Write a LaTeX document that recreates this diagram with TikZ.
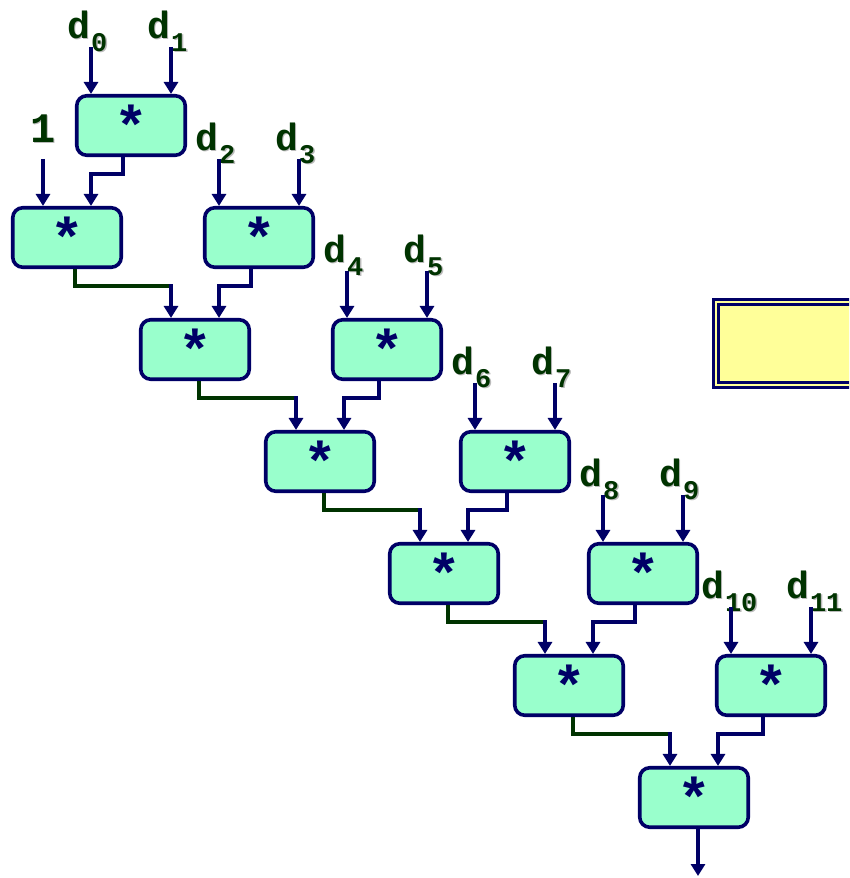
\documentclass[tikz,border=0pt]{standalone}
\usepackage{fontspec}
\setmonofont{Liberation Mono}
\usetikzlibrary{arrows.meta}
\definecolor{navy}{HTML}{000066}
\definecolor{mint}{HTML}{99FFCC}
\definecolor{dgreen}{HTML}{003300}
\definecolor{pyellow}{HTML}{FFFF99}
\definecolor{shade}{HTML}{BBBBBB}
\newcommand{\dl}[1]{{\fontsize{38}{38}\selectfont d}{\fontsize{27}{27}\selectfont\kern1pt\raisebox{-13pt}{#1}}}
\newcommand{\lbl}[4]{\node[labs] (#1s) at (#2+1.5,#3+1.5) {#4};\node[lab] (#1) at (#2,#3) {#4};}
\begin{document}
\begin{tikzpicture}[x=1pt,y=-1pt,
  mul/.style={draw=navy,fill=mint,line width=3.6pt,rounded corners=10pt,minimum width=108.5pt,minimum height=59.5pt,inner sep=0pt,text=navy,font=\ttfamily\bfseries\fontsize{56}{56}\selectfont},
  wire/.style={draw=navy,line width=3.6pt,-{Triangle[width=14pt,length=12pt]}},
  gline/.style={draw=dgreen,line width=3.6pt},
  lab/.style={inner sep=0pt,anchor=base west,font=\ttfamily\bfseries,text=dgreen},
  labs/.style={lab,text=shade}]
\useasboundingbox (0,0) rectangle (849,878);
\begin{scope}
\clip (0,0) rectangle (849,878);
\draw[draw=navy,double=pyellow,double distance=2pt,line width=3pt,fill=pyellow] (716,302) rectangle (900,385);
\end{scope}
% boxes
\node[mul] (T) at (131,125.5) {*};
\node[mul] (L1) at (67,237.5) {*};
\node[mul] (L2) at (195,349.5) {*};
\node[mul] (L3) at (320,461.5) {*};
\node[mul] (L4) at (444,573.5) {*};
\node[mul] (L5) at (569,685.5) {*};
\node[mul] (L6) at (694,797.5) {*};
\node[mul] (R1) at (259,237.5) {*};
\node[mul] (R2) at (387,349.5) {*};
\node[mul] (R3) at (515,461.5) {*};
\node[mul] (R4) at (643,573.5) {*};
\node[mul] (R5) at (771,685.5) {*};
% labels
\lbl{ld0}{67}{38}{\dl{0}}
\lbl{ld1}{147}{38}{\dl{1}}
\lbl{lone}{30}{142}{{\fontsize{42}{42}\selectfont 1}}
\lbl{ld2}{195}{150}{\dl{2}}
\lbl{ld3}{275}{150}{\dl{3}}
\lbl{ld4}{323}{262}{\dl{4}}
\lbl{ld5}{403}{262}{\dl{5}}
\lbl{ld6}{451}{374}{\dl{6}}
\lbl{ld7}{531}{374}{\dl{7}}
\lbl{ld8}{579}{486}{\dl{8}}
\lbl{ld9}{659}{486}{\dl{9}}
\lbl{ld10}{701}{598}{\dl{10}}
\lbl{ld11}{786}{598}{\dl{11}}
% input arrows
\foreach \n in {T,R1,R2,R3,R4,R5}{
  \draw[wire] ([xshift=-40pt,yshift=47pt]\n.north) -- ([xshift=-40pt]\n.north);
  \draw[wire] ([xshift=40pt,yshift=47pt]\n.north) -- ([xshift=40pt]\n.north);
}
\draw[wire] ([xshift=-24pt,yshift=47pt]L1.north) -- ([xshift=-24pt]L1.north);
% top box to L1
\draw[wire] ([xshift=-8pt]T.south) -- ++(0,17) -| ([xshift=24pt]L1.north);
% right boxes into chain
\draw[wire] ([xshift=-8pt]R1.south) -- ++(0,17) -| ([xshift=24pt]L2.north);
\draw[wire] ([xshift=-8pt]R2.south) -- ++(0,17) -| ([xshift=24pt]L3.north);
\draw[wire] ([xshift=-8pt]R3.south) -- ++(0,17) -| ([xshift=24pt]L4.north);
\draw[wire] ([xshift=-8pt]R4.south) -- ++(0,17) -| ([xshift=24pt]L5.north);
\draw[wire] ([xshift=-8pt]R5.south) -- ++(0,17) -| ([xshift=24pt]L6.north);
% chain
\foreach \a/\b/\s in {L1/L2/8,L2/L3/4,L3/L4/4,L4/L5/4,L5/L6/4}{
  \coordinate (k\b) at ([xshift=-24pt]\b.north);
  \draw[gline] ([xshift=\s pt]\a.south) -- ++(0,17) coordinate (j\b) -- ([xshift=1.8pt]j\b -| k\b);
  \draw[wire] ([yshift=1.8pt]j\b -| k\b) -- (k\b);
}
\coordinate (out) at (698,876);
\draw[wire] ([xshift=4pt]L6.south) -- (out);
\end{tikzpicture}
\end{document}
